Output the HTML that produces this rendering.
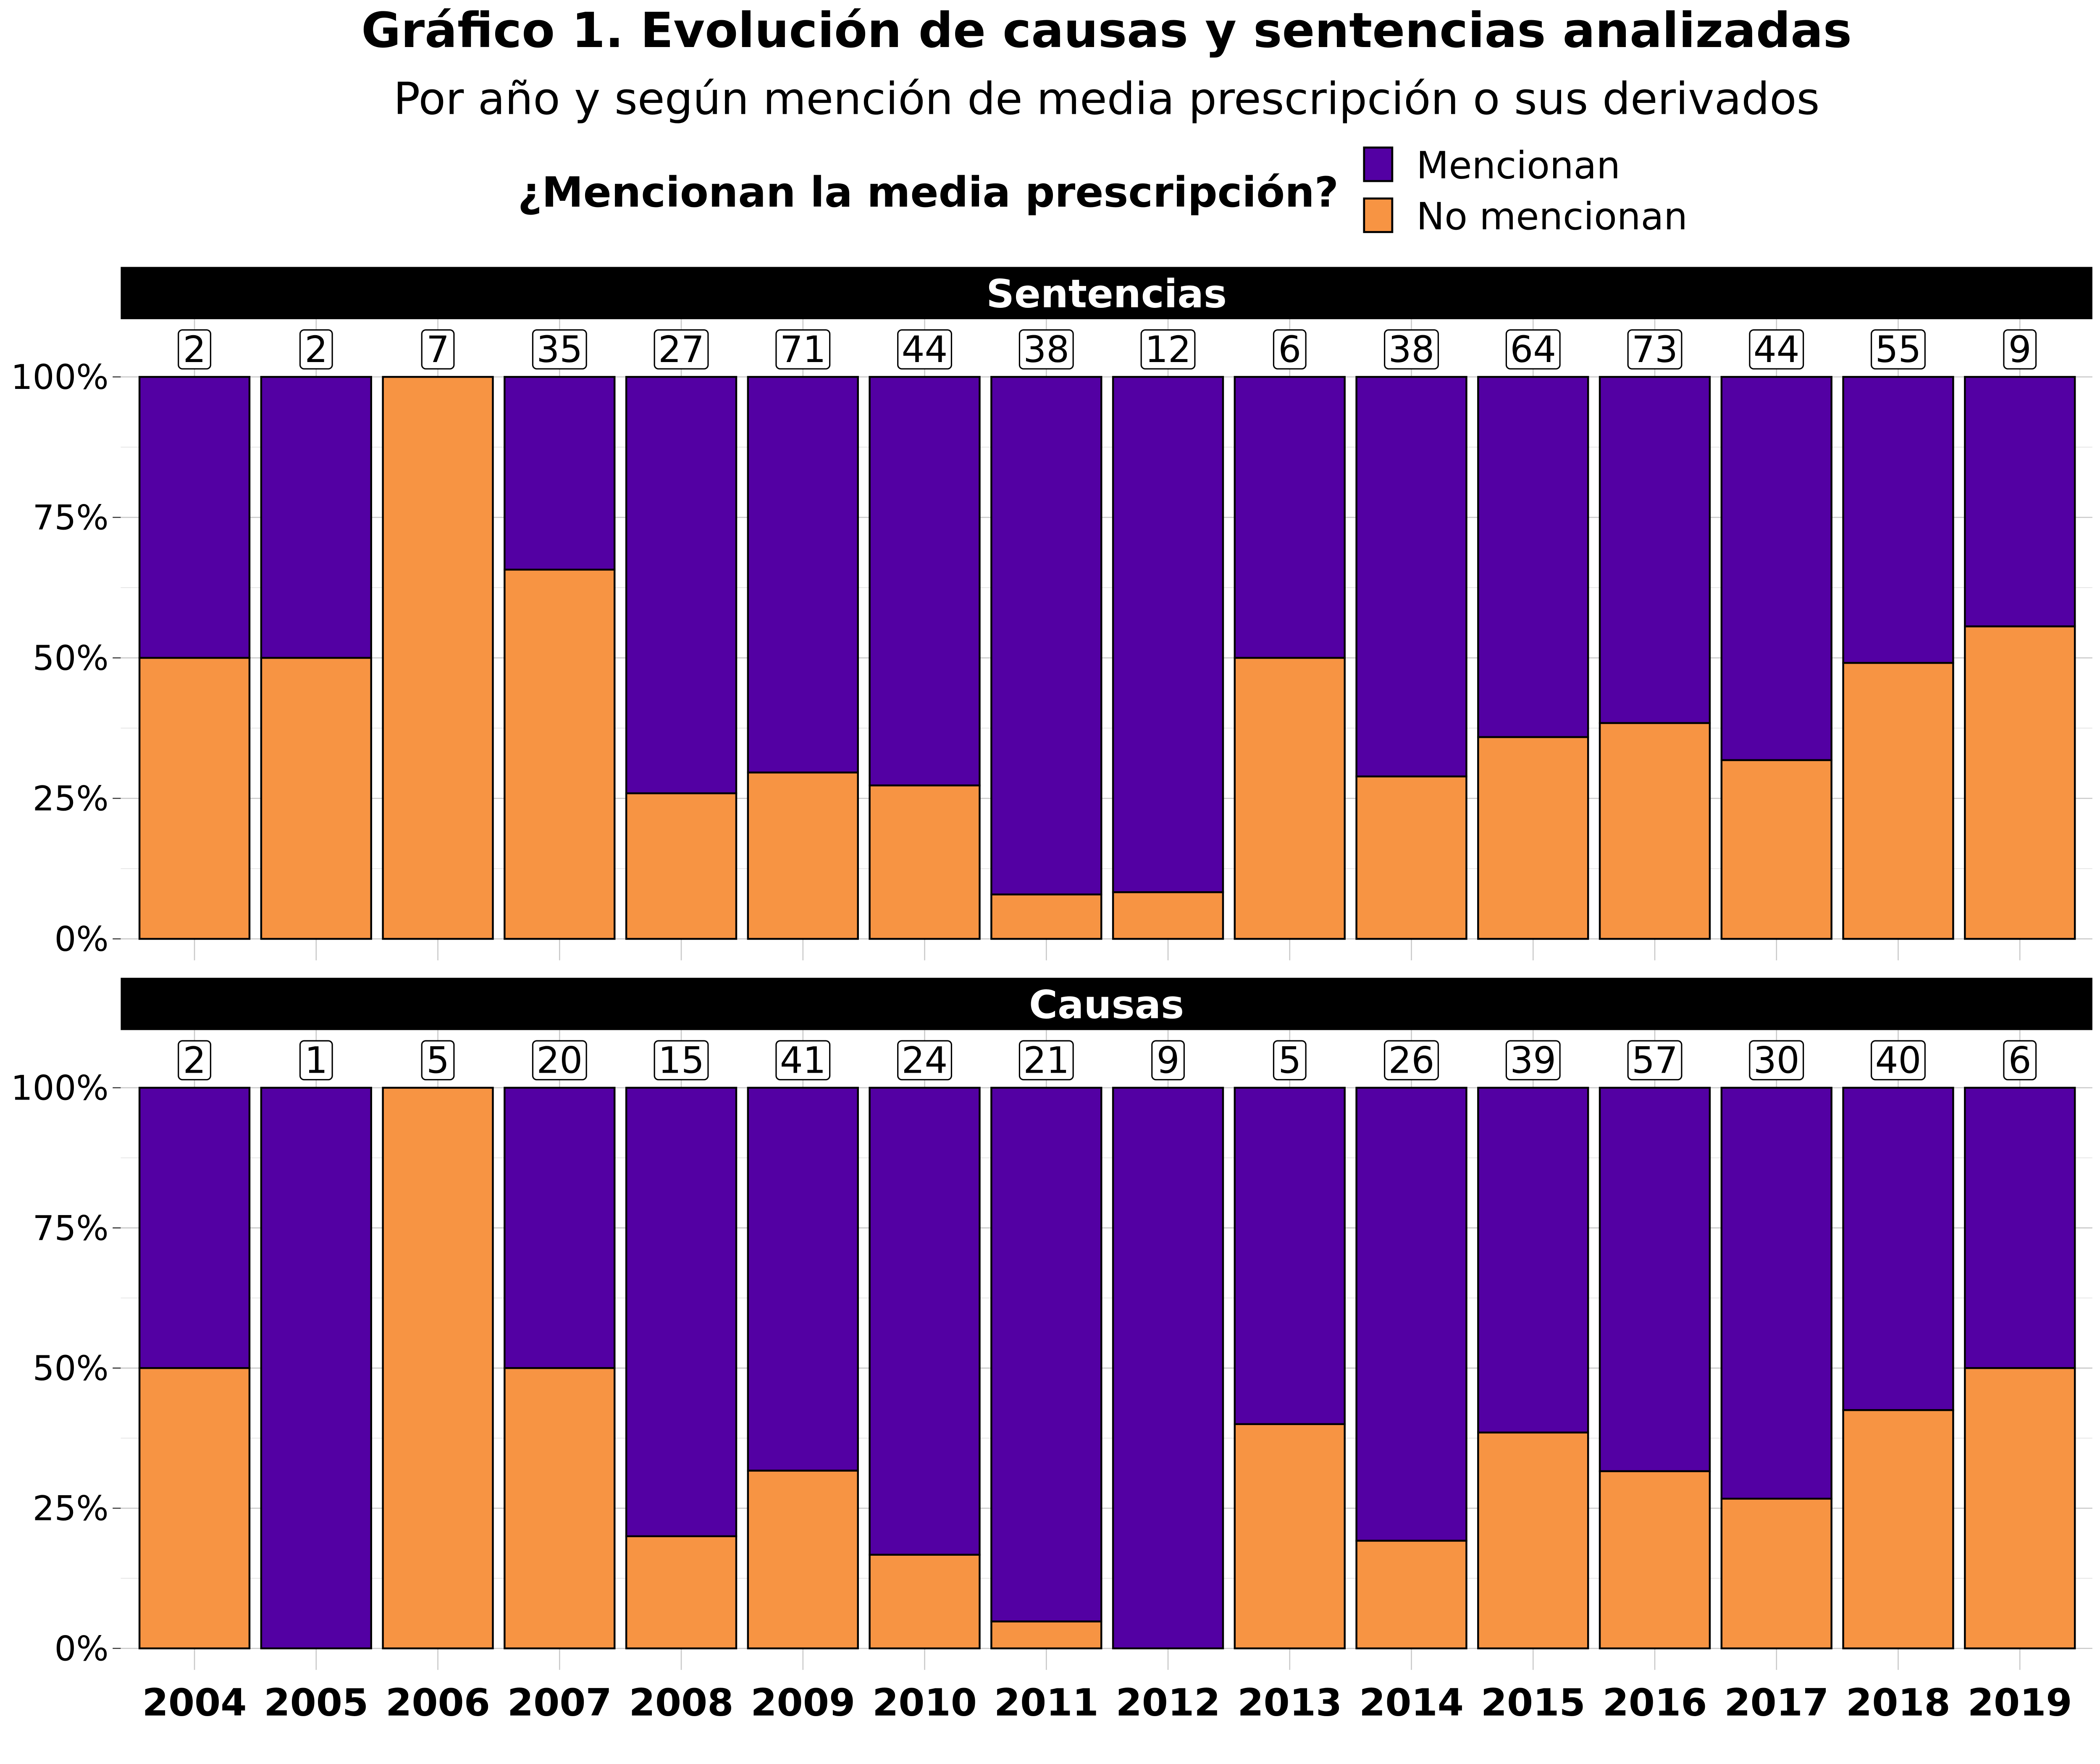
<!DOCTYPE html>
<html><head><meta charset="utf-8"><style>
html,body{margin:0;padding:0;background:#fff;overflow:hidden;}
svg{display:block;font-family:"DejaVu Sans","Liberation Sans",sans-serif;}
</style></head><body>
<svg id="chart" width="5100" height="4200" viewBox="0 0 1597 1315.2" preserveAspectRatio="none" xmlns="http://www.w3.org/2000/svg">
<text x="825" y="35" text-anchor="middle" font-size="36" font-weight="bold">Gráfico 1. Evolución de causas y sentencias analizadas</text>
<text x="825" y="85" text-anchor="middle" font-size="33">Por año y según mención de media prescripción o sus derivados</text>
<g>
<text x="998" y="154" text-anchor="end" font-size="31" font-weight="bold">¿Mencionan la media prescripción?</text>
<rect x="1017" y="110" width="21" height="25" fill="#5300A3" stroke="#000" stroke-width="1.5"/>
<text x="1056" y="133" font-size="28">Mencionan</text>
<rect x="1017" y="148" width="21" height="25" fill="#F79443" stroke="#000" stroke-width="1.5"/>
<text x="1056" y="171" font-size="28">No mencionan</text>
</g>
<g id="plots"></g>
</svg>
<script>
const years = ["2004","2005","2006","2007","2008","2009","2010","2011","2012","2013","2014","2015","2016","2017","2018","2019"];
const sentTotals = [2,2,7,35,27,71,44,38,12,6,38,64,73,44,55,9];
const sentNoShare = [0.5,0.5,1,0.657,0.259,0.296,0.273,0.079,0.083,0.5,0.289,0.359,0.384,0.318,0.491,0.556];
const causTotals = [2,1,5,20,15,41,24,21,9,5,26,39,57,30,40,6];
const causNoShare = [0.5,0,1,0.5,0.2,0.317,0.167,0.048,0,0.4,0.192,0.385,0.316,0.267,0.425,0.5];
const yTickLabels = ["0%","25%","50%","75%","100%"];
const yTickValues = [0,0.25,0.5,0.75,1];

const NS = "http://www.w3.org/2000/svg";
const g = document.getElementById("plots");
const xLeft = 90, xRight = 1560;
function xScale(i){ return 145 + i*90.73; }
const barW = 82;
function mk(tag, attrs, parent){
  const e = document.createElementNS(NS, tag);
  for (const k in attrs) e.setAttribute(k, attrs[k]);
  (parent||g).appendChild(e);
  return e;
}
function panel(title, key, totals, noShare, stripTop, y100, y0){
  const yScale = v => y0 - v*(y0-y100);
  const strip = mk("rect",{x:xLeft,y:stripTop,width:xRight-xLeft,height:39,fill:"#000"});
  
  
  const st = mk("text",{x:(xLeft+xRight)/2,y:stripTop+30,"text-anchor":"middle","font-size":29,"font-weight":"bold",fill:"#fff"});
  st.textContent = title;
  
  
  for (let v=0.125; v<1; v+=0.25){
    const l = mk("line",{x1:xLeft,x2:xRight,y1:yScale(v),y2:yScale(v),stroke:"#e6e6e6","stroke-width":0.6});
    
    
  }
  yTickValues.forEach((v,j)=>{
    const l = mk("line",{x1:xLeft,x2:xRight,y1:yScale(v),y2:yScale(v),stroke:"#c8c8c8","stroke-width":0.8});
    
    
    const tk = mk("line",{x1:84,x2:90,y1:yScale(v),y2:yScale(v),stroke:"#333","stroke-width":0.8});
    
    
    const t = mk("text",{x:81,y:yScale(v)+9,"text-anchor":"end","font-size":25.5});
    t.textContent = yTickLabels[j];
    
    
  });
  years.forEach((yr,i)=>{
    const cx = xScale(i);
    const vg = mk("line",{x1:cx,x2:cx,y1:stripTop+39,y2:y0+16,stroke:"#c8c8c8","stroke-width":0.8});
    
    
    const no = noShare[i];
    const p = mk("rect",{x:cx-barW/2,y:yScale(1),width:barW,height:yScale(no)-yScale(1),fill:"#5300A3",stroke:"#000","stroke-width":1.4});
    
    
    if (no>0){
      const o = mk("rect",{x:cx-barW/2,y:yScale(no),width:barW,height:yScale(0)-yScale(no),fill:"#F79443",stroke:"#000","stroke-width":1.4});
      
      
    }
    const txt = String(totals[i]);
    const bw = 16*txt.length+8;
    const b = mk("rect",{x:cx-bw/2,y:y100-35,width:bw,height:29,rx:3,fill:"#fff",stroke:"#000","stroke-width":1});
    
    
    const t = mk("text",{x:cx,y:y100-11,"text-anchor":"middle","font-size":27});
    t.textContent = txt;
    
    
  });
}
panel("Sentencias","sentencias",sentTotals,sentNoShare,199,281,700);
panel("Causas","causas",causTotals,causNoShare,729,811,1229);
years.forEach((yr,i)=>{
  const t = mk("text",{x:xScale(i),y:1279,"text-anchor":"middle","font-size":28,"font-weight":"bold"});
  t.textContent = yr;
  
  
});
</script>
</body></html>
